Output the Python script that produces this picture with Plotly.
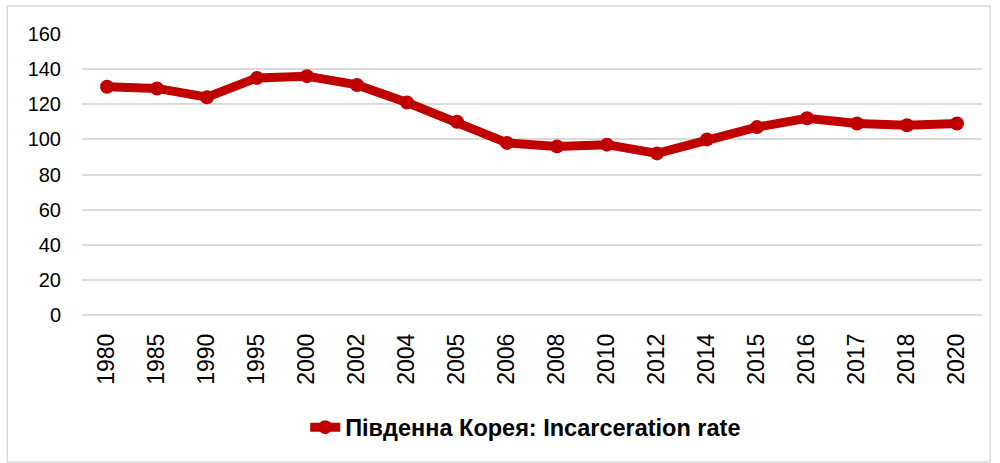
import plotly.graph_objects as go

# South Korea incarceration rate (per 100k)
years = ['1980', '1985', '1990', '1995', '2000', '2002', '2004', '2005', '2006',
         '2008', '2010', '2012', '2014', '2015', '2016', '2017', '2018', '2020']
rate = [130, 129, 124, 135, 136, 131, 121, 110, 98,
        96, 97, 92, 100, 107, 112, 109, 108, 109]
y_ticks = [0, 20, 40, 60, 80, 100, 120, 140, 160]

series_name = 'Південна Корея: Incarceration rate'
red = '#C00000'
grid = '#D9D9D9'
font_family = 'Liberation Sans, Arial, sans-serif'

fig = go.Figure(go.Scatter(
    x=years, y=rate, mode='lines+markers', name=series_name,
    line=dict(color=red, width=9),
    marker=dict(color=red, size=14),
))

fig.update_layout(
    width=1000, height=463,
    margin=dict(l=82, r=18, t=34, b=148, autoexpand=False),
    paper_bgcolor='white', plot_bgcolor='white',
    font=dict(family=font_family, size=20, color='#000000'),
    showlegend=True,
    legend=dict(
        orientation='h', x=0.493, xanchor='center', y=-0.40, yanchor='middle',
        font=dict(size=23.5, color='#000000', family=font_family, weight='bold'),
    ),
    xaxis=dict(
        type='category', range=[-0.5, len(years) - 0.5], tickangle=-90,
        showgrid=False, showline=False, ticks='', ticklabelstandoff=13,
        tickfont=dict(size=23), automargin=False,
    ),
    yaxis=dict(
        range=[0, 160], tickvals=y_ticks, showgrid=True, gridcolor=grid, gridwidth=1.5,
        zeroline=True, zerolinecolor=grid, zerolinewidth=1.5, showline=False,
        ticks='', ticklabelstandoff=20, automargin=False,
    ),
)

# light frame around the whole chart area
fig.add_shape(
    type='rect', xref='paper', yref='paper',
    x0=-0.083, x1=1.009, y0=-0.523, y1=1.0996,
    line=dict(color=grid, width=1.5), fillcolor='rgba(0,0,0,0)', layer='below',
)

fig.write_html('out.html', config={'displayModeBar': False},
               post_script="document.body.style.margin='0';")
